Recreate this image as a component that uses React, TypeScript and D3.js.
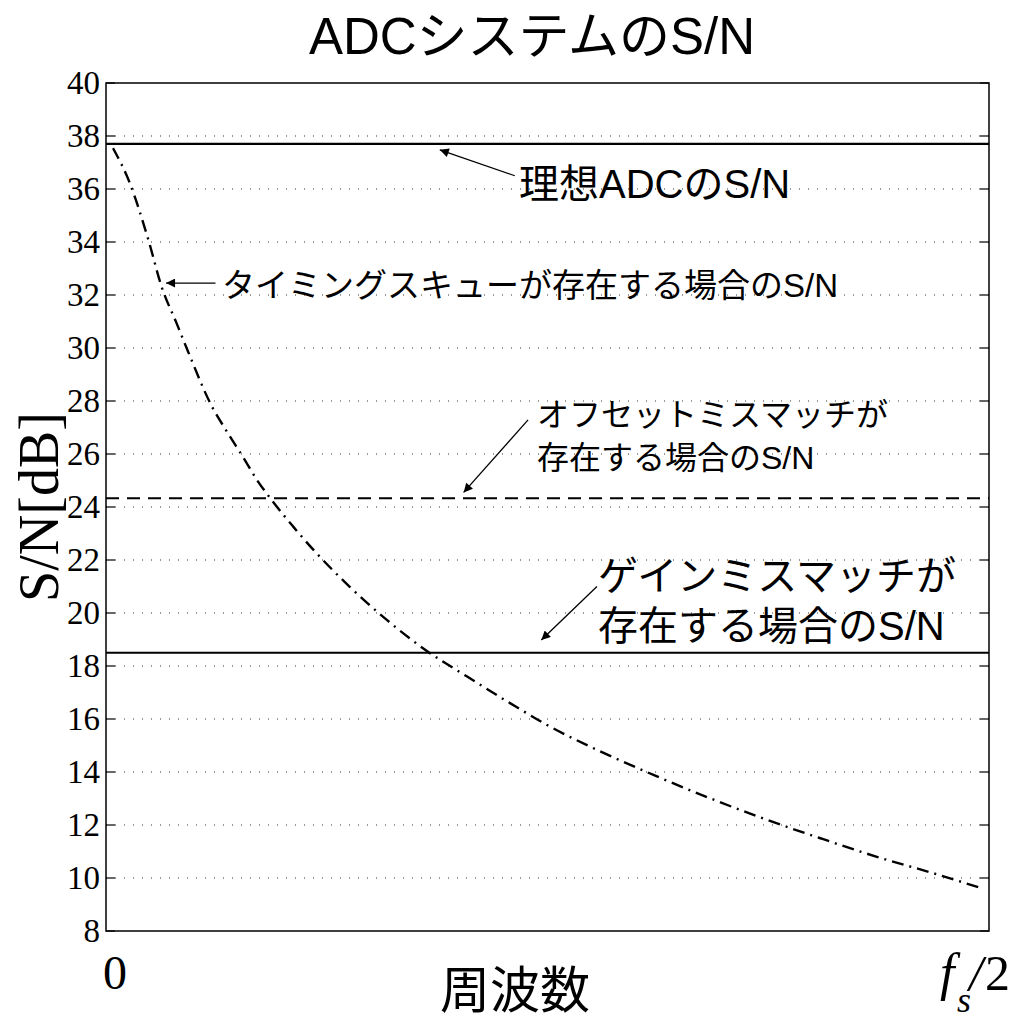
import React, { useEffect, useRef } from "react";
import * as d3 from "d3";

// frequency as a fraction of fs/2, and S/N
const freq = [
  0.008, 0.027, 0.048, 0.063, 0.08, 0.093, 0.12, 0.137, 0.156, 0.171, 0.186, 0.212, 0.235,
  0.276, 0.318, 0.359, 0.409, 0.458, 0.503, 0.559, 0.62, 0.684, 0.744, 0.809, 0.873, 0.937, 0.992,
];
const timingSN = [
  37.54, 36.22, 34.08, 32.31, 30.93, 29.86, 27.79, 26.84, 25.84, 25.02, 24.33, 23.26, 22.38,
  20.99, 19.74, 18.67, 17.6, 16.59, 15.71, 14.79, 13.89, 13.01, 12.25, 11.5, 10.8, 10.18, 9.61,
];
const idealSN = 37.7;
const offsetSN = 24.33;
const gainSN = 18.5;
const yTicks = [8, 10, 12, 14, 16, 18, 20, 22, 24, 26, 28, 30, 32, 34, 36, 38, 40];
const gridTicks = [10, 12, 14, 16, 18, 20, 22, 24, 26, 28, 30, 32, 34, 36, 38];

const title = "ADCシステムのS/N";
const xLabel = "周波数";
const yLabel = "S/N[dB]";

const W = 1032;
const H = 1023;
const SERIF = "'Liberation Serif', 'Times New Roman', serif";
const SANS = "'Liberation Sans', Arial, 'Noto Sans CJK JP', sans-serif";

const App = () => {
  const ref = useRef<SVGSVGElement | null>(null);

  useEffect(() => {
    if (!ref.current) return;
    const svg = d3.select(ref.current);
    svg.selectAll("*").remove();

    const left = 106, right = 989, top = 83, bottom = 931;
    const x = d3.scaleLinear().domain([0, 1]).range([left, right]);
    const y = d3.scaleLinear().domain([8, 40]).range([bottom, top]);

    svg.append("rect").attr("width", W).attr("height", H).attr("fill", "#fff");

    const defs = svg.append("defs");
    defs
      .append("marker")
      .attr("id", "arrow")
      .attr("viewBox", "0 0 10 10")
      .attr("refX", 10)
      .attr("refY", 5)
      .attr("markerWidth", 15)
      .attr("markerHeight", 9)
      .attr("markerUnits", "userSpaceOnUse")
      .attr("orient", "auto")
      .append("path")
      .attr("d", "M0,0 L10,5 L0,10 z")
      .attr("fill", "#000");

    // dotted grid
    svg
      .append("g")
      .selectAll("line")
      .data(gridTicks)
      .join("line")
      .attr("x1", left)
      .attr("x2", right)
      .attr("y1", (d) => y(d))
      .attr("y2", (d) => y(d))
      .attr("stroke", "#333")
      .attr("stroke-width", 1)
      .attr("stroke-dasharray", "1,8");

    // inward ticks on both sides
    const tk = svg.append("g").attr("stroke", "#000").attr("stroke-width", 1.2);
    tk.selectAll("line.l")
      .data(yTicks)
      .join("line")
      .attr("class", "l")
      .attr("x1", left)
      .attr("x2", left + 9)
      .attr("y1", (d) => y(d))
      .attr("y2", (d) => y(d));
    tk.selectAll("line.r")
      .data(yTicks)
      .join("line")
      .attr("class", "r")
      .attr("x1", right)
      .attr("x2", right - 9)
      .attr("y1", (d) => y(d))
      .attr("y2", (d) => y(d));

    svg
      .append("g")
      .selectAll("text")
      .data(yTicks)
      .join("text")
      .attr("x", left - 6)
      .attr("y", (d) => y(d) + 11)
      .attr("text-anchor", "end")
      .style("font-family", SERIF)
      .style("font-size", "33px")
      .text((d) => d);

    // horizontal reference lines
    const hline = (v: number, dash: string | null) =>
      svg
        .append("line")
        .attr("x1", left)
        .attr("x2", right)
        .attr("y1", y(v))
        .attr("y2", y(v))
        .attr("stroke", "#000")
        .attr("stroke-width", 2.2)
        .attr("stroke-dasharray", dash);
    hline(idealSN, null);
    hline(offsetSN, "13,8");
    hline(gainSN, null);

    // timing skew curve
    const line = d3
      .line<number>()
      .x((_, i) => x(freq[i]))
      .y((d) => y(d))
      .curve(d3.curveMonotoneX);
    svg
      .append("path")
      .datum(timingSN)
      .attr("d", line)
      .attr("fill", "none")
      .attr("stroke", "#000")
      .attr("stroke-width", 2.4)
      .attr("stroke-dasharray", "12,6,2,6");

    // frame
    svg
      .append("rect")
      .attr("x", left)
      .attr("y", top)
      .attr("width", right - left)
      .attr("height", bottom - top)
      .attr("fill", "none")
      .attr("stroke", "#000")
      .attr("stroke-width", 1.5);

    // annotations: arrows (tail -> tip, data coords) and text
    const arrow = (x0: number, y0: number, x1: number, y1: number) =>
      svg
        .append("line")
        .attr("x1", x(x0))
        .attr("y1", y(y0))
        .attr("x2", x(x1))
        .attr("y2", y(y1))
        .attr("stroke", "#000")
        .attr("stroke-width", 1.3)
        .attr("marker-end", "url(#arrow)");
    arrow(0.463, 36.5, 0.378, 37.48);
    arrow(0.124, 32.45, 0.068, 32.45);
    arrow(0.478, 27.29, 0.405, 24.55);
    arrow(0.556, 21.0, 0.493, 18.98);

    const label = (lines: string[], tx: number, ty: number, size: number, gap: number) => {
      const t = svg
        .append("text")
        .style("font-family", SANS)
        .style("font-size", `${size}px`);
      lines.forEach((s, i) =>
        t.append("tspan").attr("x", tx).attr("y", ty + i * gap).text(s)
      );
    };
    label(["理想ADCのS/N"], 519, 198, 40, 0);
    label(["タイミングスキューが存在する場合のS/N"], 222, 297, 33, 0);
    label(["オフセットミスマッチが", "存在する場合のS/N"], 537, 426, 32, 43);
    label(["ゲインミスマッチが", "存在する場合のS/N"], 598, 590, 40, 50);

    // titles
    svg
      .append("text")
      .attr("x", 532)
      .attr("y", 54)
      .attr("text-anchor", "middle")
      .style("font-family", SANS)
      .style("font-size", "51px")
      .text(title);
    svg
      .append("text")
      .attr("x", 515)
      .attr("y", 1008)
      .attr("text-anchor", "middle")
      .style("font-family", SANS)
      .style("font-size", "50px")
      .text(xLabel);
    svg
      .append("text")
      .attr("transform", `translate(58,${(top + bottom) / 2}) rotate(-90)`)
      .attr("text-anchor", "middle")
      .style("font-family", SERIF)
      .style("font-size", "56px")
      .text(yLabel);

    // x tick labels
    svg
      .append("text")
      .attr("x", x(0) + 9)
      .attr("y", 989)
      .attr("text-anchor", "middle")
      .style("font-family", SERIF)
      .style("font-size", "48px")
      .text("0");
    const fsPart = (s: string, px: number, py: number, size: number, italic: boolean) =>
      svg
        .append("text")
        .attr("x", px)
        .attr("y", py)
        .style("font-family", SERIF)
        .style("font-size", `${size}px`)
        .style("font-style", italic ? "italic" : "normal")
        .text(s);
    fsPart("f", 940, 990, 52, true);
    fsPart("s", 957, 1012, 36, true);
    fsPart("/", 969, 990, 50, true);
    fsPart("2", 985, 990, 50, false);
  }, []);

  return (
    <svg
      ref={ref}
      width={W}
      height={H}
      style={{ position: "absolute", left: 0, top: 0, display: "block" }}
    />
  );
};

export default App;
